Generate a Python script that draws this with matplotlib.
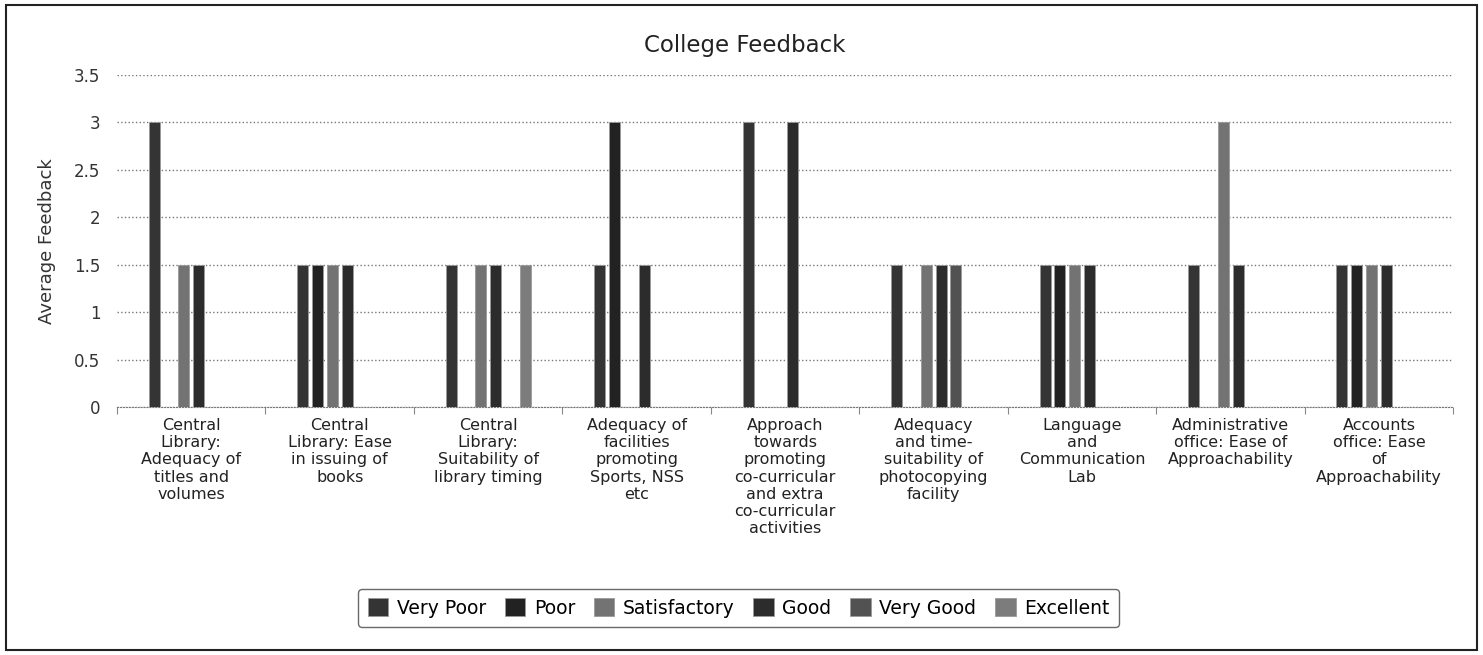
import matplotlib.pyplot as plt
import numpy as np
from matplotlib.patches import Rectangle, Patch

categories = [
    "Central\nLibrary:\nAdequacy of\ntitles and\nvolumes",
    "Central\nLibrary: Ease\nin issuing of\nbooks",
    "Central\nLibrary:\nSuitability of\nlibrary timing",
    "Adequacy of\nfacilities\npromoting\nSports, NSS\netc",
    "Approach\ntowards\npromoting\nco-curricular\nand extra\nco-curricular\nactivities",
    "Adequacy\nand time-\nsuitability of\nphotocopying\nfacility",
    "Language\nand\nCommunication\nLab",
    "Administrative\noffice: Ease of\nApproachability",
    "Accounts\noffice: Ease\nof\nApproachability",
]

series_names = ["Very Poor", "Poor", "Satisfactory", "Good", "Very Good", "Excellent"]

very_poor    = [3,   1.5, 1.5, 1.5, 3, 1.5, 1.5, 1.5, 1.5]
poor         = [0,   1.5, 0,   3,   0, 0,   1.5, 0,   1.5]
satisfactory = [1.5, 1.5, 1.5, 0,   0, 1.5, 1.5, 3,   1.5]
good         = [1.5, 1.5, 1.5, 1.5, 3, 1.5, 1.5, 1.5, 1.5]
very_good    = [0,   0,   0,   0,   0, 1.5, 0,   0,   0]
excellent    = [0,   0,   1.5, 0,   0, 0,   0,   0,   0]

series_values = [very_poor, poor, satisfactory, good, very_good, excellent]
colors = ["#343434", "#222222", "#737373", "#2c2c2c", "#525252", "#7c7c7c"]

fig = plt.figure(figsize=(14.83, 6.55), dpi=100)
ax = fig.add_axes([0.0789, 0.3786, 0.9011, 0.5069])

x = np.arange(len(categories))
step = 0.1
width = 0.074
for i, (vals, col) in enumerate(zip(series_values, colors)):
    vals = np.array(vals, dtype=float)
    mask = vals > 0
    ax.bar(x[mask] + (i - 2.5) * step, vals[mask], width=width, color=col,
           edgecolor="#9a9a9a", linewidth=0.6, zorder=3)

ax.set_xlim(-0.5, len(categories) - 0.5)
ax.set_ylim(0, 3.5)
ax.set_yticks(np.arange(0, 3.51, 0.5))
ax.set_yticklabels(["0", "0.5", "1", "1.5", "2", "2.5", "3", "3.5"], fontsize=12, color="#333333")
ax.tick_params(axis="y", length=0, pad=12)
ax.yaxis.grid(True, linestyle=":", color="#777777", linewidth=1.0, zorder=0)

ax.set_xticks(x)
ax.set_xticklabels(categories, fontsize=11.5, color="#222222", va="top")
for lbl in ax.get_xticklabels():
    lbl.set_linespacing(1.18)
ax.tick_params(axis="x", length=0, pad=8)
ax.set_xticks(np.arange(-0.5, len(categories), 1), minor=True)
ax.tick_params(axis="x", which="minor", length=5, width=0.8, color="#888888")

for s in ["top", "right", "left"]:
    ax.spines[s].set_visible(False)
ax.spines["bottom"].set_linestyle(":")
ax.spines["bottom"].set_color("#777777")

ax.set_ylabel("Average Feedback", fontsize=13, color="#333333")
ax.yaxis.set_label_coords(-0.046, 0.5)

fig.text(0.502, 0.931, "College Feedback", ha="center", va="center", fontsize=16.5, color="#222222")

handles = [Patch(facecolor=c, edgecolor="#9a9a9a", linewidth=0.6) for c in colors]
leg = fig.legend(handles, series_names, loc="center", bbox_to_anchor=(0.498, 0.072), ncol=6,
                 fontsize=13.5, frameon=True, handlelength=1.1, handleheight=1.1,
                 handletextpad=0.45, columnspacing=1.0, borderpad=0.5, fancybox=True)
leg.get_frame().set_edgecolor("#444444")
leg.get_frame().set_linewidth(1.0)

fig.patches.append(Rectangle((0.004, 0.008), 0.992, 0.984, transform=fig.transFigure,
                             fill=False, edgecolor="#222222", linewidth=1.5))

fig.savefig("out.png", dpi=100)
